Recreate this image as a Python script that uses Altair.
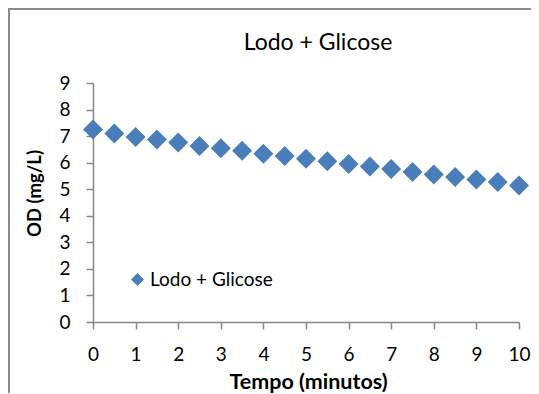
import altair as alt
import pandas as pd

tempo = [0, 0.5, 1, 1.5, 2, 2.5, 3, 3.5, 4, 4.5, 5, 5.5, 6, 6.5, 7, 7.5, 8, 8.5, 9, 9.5, 10]
od = [7.25, 7.10, 6.97, 6.87, 6.76, 6.63, 6.54, 6.45, 6.34, 6.25, 6.15, 6.05, 5.95,
      5.86, 5.76, 5.65, 5.55, 5.46, 5.37, 5.27, 5.14]
serie = "Lodo + Glicose"
x_ticks = list(range(0, 11))
y_ticks = list(range(0, 10))

df = pd.DataFrame({"Tempo": tempo, "OD": od, "Serie": [serie] * len(tempo)})

FONT = "Lato"
AXIS_GRAY = "#868686"

points = alt.Chart(df).mark_point(filled=True, shape="diamond", size=400, opacity=1).encode(
    x=alt.X("Tempo:Q",
            scale=alt.Scale(domain=[0, 10], nice=False, zero=False),
            axis=alt.Axis(values=x_ticks, title="Tempo (minutos)", grid=False,
                          labelFlush=False, labelOverlap=False,
                          labelBaseline="alphabetic", labelPadding=31,
                          titleFontSize=21.5,
                          titleX=215, titleY=66, titleBaseline="alphabetic",
                          titleAlign="center")),
    y=alt.Y("OD:Q",
            scale=alt.Scale(domain=[0, 9], nice=False),
            axis=alt.Axis(values=y_ticks, title="OD (mg/L)", grid=False,
                          labelFlush=False, labelOverlap=False,
                          titleFontSize=18.5,
                          labelPadding=16, titleX=-59, titleY=110,
                          titleAngle=270, titleAlign="center", titleBaseline="middle")),
    color=alt.Color("Serie:N", scale=alt.Scale(range=["#4A7EBB"]),
                    legend=alt.Legend(title=None, orient="none", legendX=35, legendY=187,
                                      symbolType="diamond", symbolSize=169,
                                      symbolStrokeWidth=0, labelFontSize=19,
                                      labelFont=FONT, labelColor="black",
                                      labelOffset=3, padding=0)),
)

frame_left = alt.Chart(df).mark_rule(color="#8C8C8C", strokeWidth=1.6).encode(
    x=alt.value(-84), y=alt.value(-75), y2=alt.value(310)
)
frame_top = alt.Chart(df).mark_rule(color="#8C8C8C", strokeWidth=1.6).encode(
    x=alt.value(-84), x2=alt.value(440), y=alt.value(-74.5)
)

chart = alt.layer(frame_left, frame_top, points).properties(
    width=426,
    height=239,
    title=alt.TitleParams(serie, font=FONT, fontSize=23, fontWeight="normal",
                          color="black", anchor="middle", frame="group",
                          dx=12, offset=-66, baseline="alphabetic"),
    autosize=alt.AutoSizeParams(type="none"),
    padding={"left": 85, "top": 75, "right": 12, "bottom": 72},
).configure_view(stroke=None).configure_axis(
    domainColor=AXIS_GRAY, tickColor=AXIS_GRAY, domainWidth=1.5, tickWidth=1.5,
    tickSize=7, labelFont=FONT, labelFontSize=19, labelColor="black",
    titleFont=FONT, titleFontWeight="bold", titleColor="black",
)

chart.save("out.html", embed_options={"renderer": "svg", "actions": False})
